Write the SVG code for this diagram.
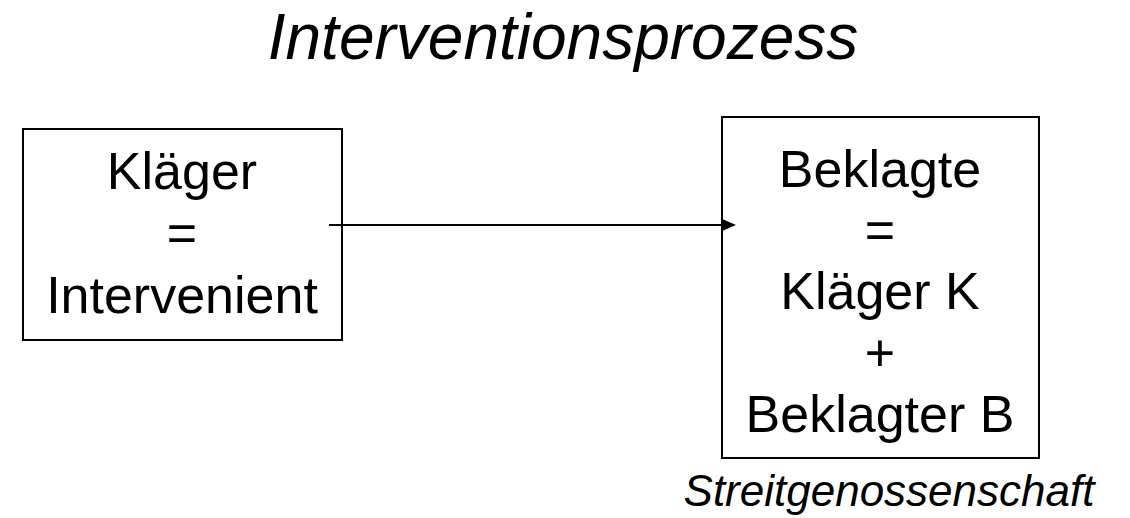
<svg xmlns="http://www.w3.org/2000/svg" width="1130" height="518" viewBox="0 0 1130 518">
<defs>
<style>
.t{font-family:"Liberation Sans",Arial,sans-serif;fill:#000;text-anchor:middle}
.b{font-size:52px}
.i{font-style:italic}
.box{fill:#fff;stroke:#000;stroke-width:2}
.ln{stroke:#000;stroke-width:2;fill:none}
</style>
</defs>
<rect width="1130" height="518" fill="#fff"/>
<text class="t i" x="563" y="59" font-size="64">Interventionsprozess</text>
<g id="klaeger">
<rect class="box" x="23" y="129" width="319" height="211"/>
<text class="t b" x="182" y="189">Kläger</text>
<text class="t b" x="182" y="251">=</text>
<text class="t b" x="182" y="313">Intervenient</text>
</g>
<g id="beklagte">
<rect class="box" x="722" y="117" width="317" height="341"/>
<text class="t b" x="880" y="187">Beklagte</text>
<text class="t b" x="880" y="248">=</text>
<text class="t b" x="880" y="309">Kläger K</text>
<text class="t b" x="880" y="371">+</text>
<text class="t b" x="880" y="432">Beklagter B</text>
</g>
<g id="streitgenossenschaft">
<text class="t i" x="889" y="506" font-size="44">Streitgenossenschaft</text>
</g>
<g id="connectors">
<line class="ln" x1="329" y1="225" x2="722" y2="225"/>
<path d="M721,218.5 L736,225 L721,231.5 z" fill="#000"/>
</g>
</svg>
